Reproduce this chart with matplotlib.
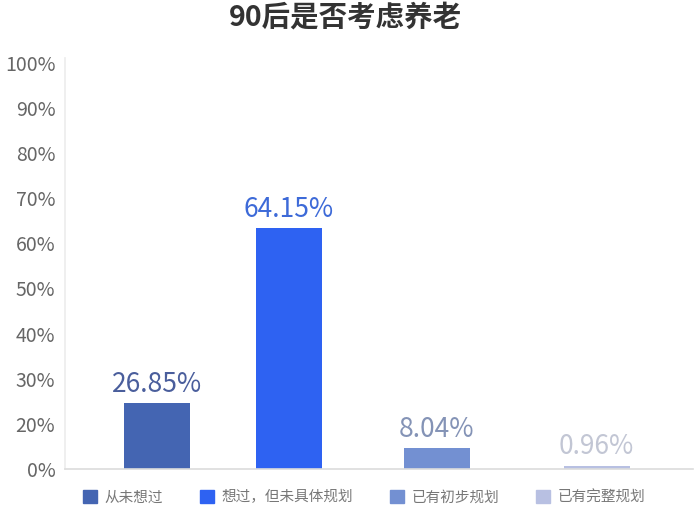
import numpy as np
import matplotlib.pyplot as plt

plt.rcParams['font.family'] = ['Noto Sans CJK SC', 'DejaVu Sans']

# 数据
categories = ['从未想过', '想过，但未具体规划', '已有初步规划', '已有完整规划']
value_labels = ['26.85%', '64.15%', '8.04%', '0.96%']
# 柱高按原图刻度读出（原图柱高与标注不一致）
bar_heights = [14.6, 53.3, 4.6, 0.7]
ytick_labels = ['0%', '20%', '30%', '40%', '50%', '60%', '70%', '80%', '90%', '100%']

# 样式
bar_colors = ['#4465b2', '#2e62f2', '#7390d2', '#b8c0e2']
label_colors = ['#4a5e9c', '#3d6ad8', '#8493b6', '#c2c6d4']
bar_pos = [0, 1, 2.12, 3.33]

fig = plt.figure(figsize=(6.96, 5.26), dpi=100)
ax = fig.add_axes([65 / 696, 57 / 526, 628 / 696, 411 / 526])

bars = ax.bar(bar_pos, bar_heights, width=0.5, color=bar_colors)

for b, txt, c in zip(bars, value_labels, label_colors):
    ax.annotate(txt, (b.get_x() + b.get_width() / 2, b.get_height()),
                xytext=(0, 4), textcoords='offset points',
                ha='center', va='bottom', fontsize=19, color=c, fontweight='light')

ax.set_xlim(-0.697, 4.06)
ax.set_ylim(0, 91)
ax.set_xticks([])
ax.set_yticks(np.arange(0, 91, 10))
ax.set_yticklabels(ytick_labels, fontsize=14, color='#666666', fontweight='light')
ax.tick_params(axis='y', length=0, pad=7)

for s in ['top', 'right']:
    ax.spines[s].set_visible(False)
ax.spines['left'].set_color('#ececec')
ax.spines['bottom'].set_color('#dcdcdc')
ax.spines['left'].set_linewidth(1.2)
ax.spines['bottom'].set_linewidth(1.2)

handles = [plt.Rectangle((0, 0), 1, 1, color=c) for c in bar_colors]
leg = fig.legend(handles, categories, loc='center', bbox_to_anchor=(364 / 696, 1 - 497 / 526),
                 ncol=4, frameon=False, fontsize=10.5, handlelength=1, handleheight=1,
                 handletextpad=0.5, columnspacing=2.5,
                 prop={'size': 10.5, 'weight': 'light'})
for t in leg.get_texts():
    t.set_color('#777777')

fig.text(0.497, 1 - 18 / 526, '90后是否考虑养老', ha='center', va='center',
         fontsize=20.5, fontweight='bold', color='#333333')

plt.savefig('out.png', dpi=100)
